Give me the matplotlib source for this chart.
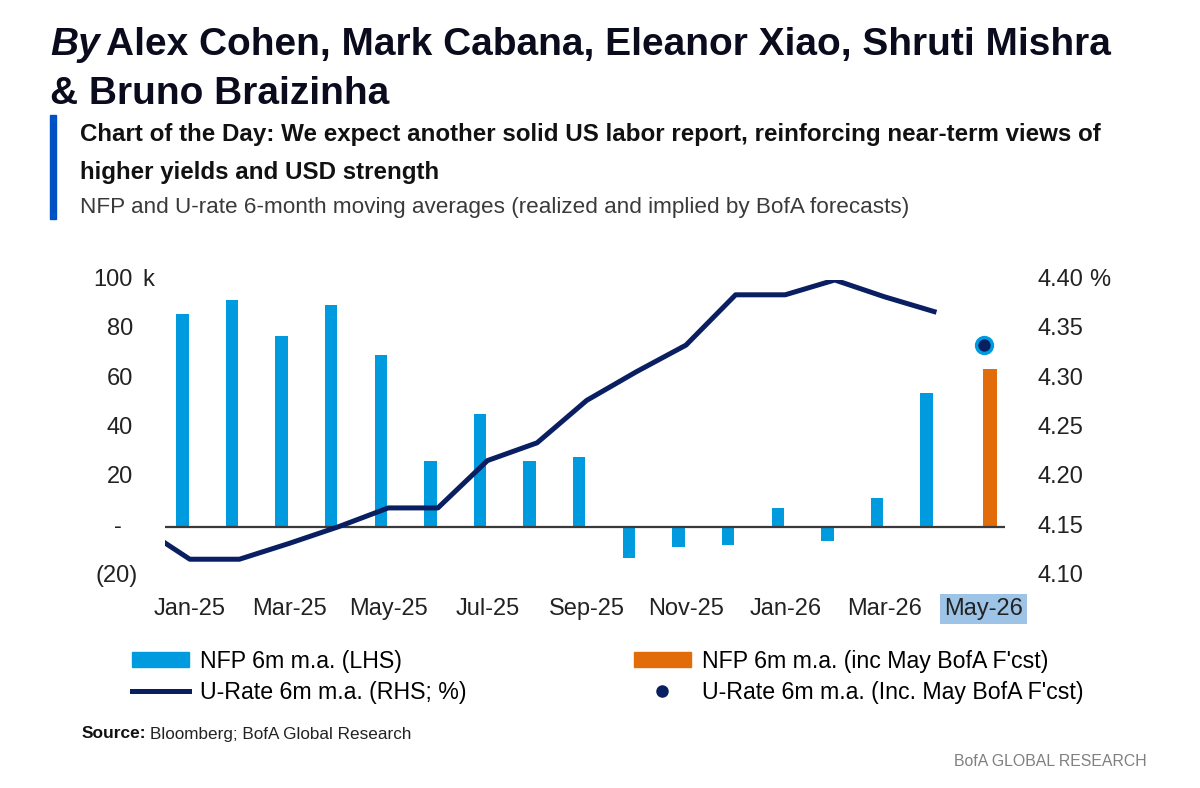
import matplotlib.pyplot as plt
from matplotlib.patches import Patch, Rectangle
from matplotlib.lines import Line2D
import numpy as np

plt.rcParams['font.family'] = ['Liberation Sans', 'DejaVu Sans']

# data
months = ['Jan-25', 'Feb-25', 'Mar-25', 'Apr-25', 'May-25', 'Jun-25', 'Jul-25', 'Aug-25',
          'Sep-25', 'Oct-25', 'Nov-25', 'Dec-25', 'Jan-26', 'Feb-26', 'Mar-26', 'Apr-26', 'May-26']
nfp = [86.4, 91.9, 77.2, 90.0, 69.5, 26.5, 45.5, 26.5, 28.1, -12.6, -8.1, -7.6, 7.7, -5.8, 11.6, 54.3]
nfp_fcst = 64.1
# Dec-24 .. Apr-26
urate = [4.150, 4.117, 4.117, 4.133, 4.150, 4.169, 4.169, 4.217, 4.235, 4.278, 4.307, 4.334,
         4.385, 4.385, 4.400, 4.383, 4.368]
urate_fcst = 4.334

left_ticks = [-20, 0, 20, 40, 60, 80, 100]
left_labels = ['(20)', '-', '20', '40', '60', '80', '100']
right_ticks = [4.10, 4.15, 4.20, 4.25, 4.30, 4.35, 4.40]

BLUE = '#009ADE'
ORANGE = '#E36C0A'
NAVY = '#0A1F62'
TXT = '#222222'
TICK_FS = 17

W, H = 1200, 788


def fx(x):
    return x / W


def fy(y):
    return 1 - y / H


fig = plt.figure(figsize=(12, 7.88), dpi=100)

# header
fig.text(fx(50), fy(55), 'By', fontsize=28, weight='bold', style='italic', color='#0B0B1E')
fig.text(fx(106), fy(55), 'Alex Cohen, Mark Cabana, Eleanor Xiao, Shruti Mishra',
         fontsize=28, weight='bold', color='#0B0B1E')
fig.text(fx(50), fy(104), '& Bruno Braizinha', fontsize=28, weight='bold', color='#0B0B1E')
fig.patches.append(Rectangle((fx(50), fy(219)), fx(6), fy(115) - fy(219),
                             transform=fig.transFigure, color='#0052C2'))
fig.text(fx(80), fy(134), 'Chart of the Day: We expect another solid US labor report, reinforcing near-term views of',
         fontsize=17.4, weight='bold', va='center', color='#111111')
fig.text(fx(80), fy(172), 'higher yields and USD strength', fontsize=17.4, weight='bold',
         va='center', color='#111111')
fig.text(fx(80), fy(207), 'NFP and U-rate 6-month moving averages (realized and implied by BofA forecasts)',
         fontsize=16.2, va='center', color='#3A3A3A')

ax = fig.add_axes([fx(165), fy(576), fx(840), 296 / H])
ax2 = ax.twinx()

x = np.arange(len(months))
ax.bar(x[:-1] - 0.15, nfp, width=0.25, color=BLUE)
ax.bar(x[-1] + 0.12, nfp_fcst, width=0.28, color=ORANGE)
ax.axhline(0, color='#3A3A3A', lw=1.6)
ax.set_ylim(-20, 100)
ax.set_xlim(-0.5, 16.43)

ax2.plot(np.arange(-1, len(urate) - 1), urate, color=NAVY, lw=3.6)
ax2.scatter([x[-1]], [urate_fcst], s=130, color=NAVY, edgecolor=BLUE, linewidth=2.5, zorder=5)
ax2.set_ylim(4.10, 4.40)

for a in (ax, ax2):
    for s in a.spines.values():
        s.set_visible(False)
    a.tick_params(length=0)
ax.set_yticks(left_ticks)
ax.set_yticklabels([])
ax2.set_yticks(right_ticks)
ax2.set_yticklabels([])

# accounting-style left labels
ytr = ax.get_yaxis_transform()
for v, s in zip(left_ticks, left_labels):
    if s == '-':
        ax.text(-0.056, v, s, transform=ytr, ha='center', va='center', fontsize=TICK_FS, color=TXT)
    elif s.startswith('('):
        ax.text(-0.033, v, s, transform=ytr, ha='right', va='center', fontsize=TICK_FS, color=TXT)
    else:
        ax.text(-0.038, v, s, transform=ytr, ha='right', va='center', fontsize=TICK_FS, color=TXT)
ax.text(-0.027, 100, 'k', transform=ytr, ha='left', va='center', fontsize=TICK_FS, color=TXT)

ytr2 = ax2.get_yaxis_transform()
for v in right_ticks:
    ax2.text(1.039, v, f'{v:.2f}', transform=ytr2, ha='left', va='center', fontsize=TICK_FS, color=TXT)
ax2.text(1.1, 4.40, '%', transform=ytr2, ha='left', va='center', fontsize=TICK_FS, color=TXT)

ax.set_xticks(x[::2])
ax.set_xticklabels(months[::2], fontsize=TICK_FS, color=TXT)
ax.tick_params(axis='x', pad=16)
last = ax.get_xticklabels()[-1]
last.set_bbox(dict(facecolor='#9DC3E6', edgecolor='none', pad=3))

handles = [Patch(color=BLUE), Line2D([], [], color=NAVY, lw=3.6),
           Patch(color=ORANGE), Line2D([], [], marker='o', color=NAVY, ls='none', markersize=8)]
labels = ['NFP 6m m.a. (LHS)', 'U-Rate 6m m.a. (RHS; %)',
          "NFP 6m m.a. (inc May BofA F'cst)", "U-Rate 6m m.a. (Inc. May BofA F'cst)"]
fig.legend(handles, labels, ncol=2, loc='upper left', bbox_to_anchor=(fx(132), fy(650)),
           frameon=False, fontsize=16.7, handlelength=2.45, handleheight=0.6, handletextpad=0.5,
           columnspacing=7.2, labelspacing=0.35, borderaxespad=0, borderpad=0)

fig.text(fx(82), fy(734), 'Source:', fontsize=12.5, weight='bold', va='center', color='#111111')
fig.text(fx(150), fy(734), 'Bloomberg; BofA Global Research', fontsize=12.3, va='center', color=TXT)
fig.text(fx(1147), fy(762), 'BofA GLOBAL RESEARCH', fontsize=11.4, ha='right', va='center', color='#808080')

fig.savefig('out.png', dpi=100)
